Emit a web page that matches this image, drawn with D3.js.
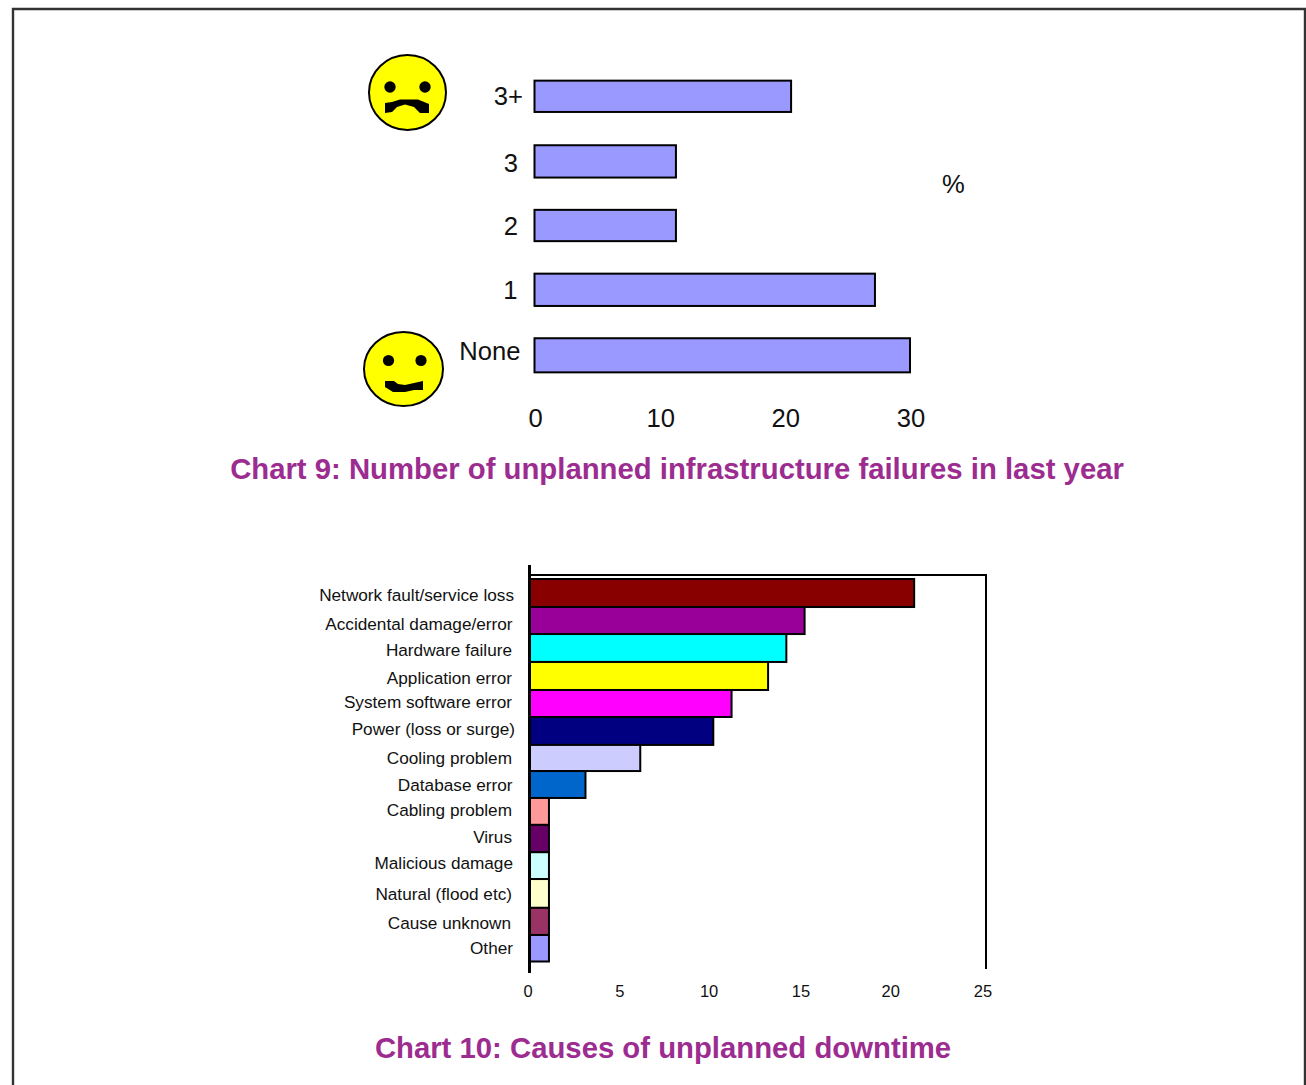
<!DOCTYPE html>
<html><head><meta charset="utf-8">
<script src="https://cdn.jsdelivr.net/npm/d3@7"></script>
<style>html,body{margin:0;padding:0;background:#fff;overflow:hidden}svg{display:block}text{font-family:"Liberation Sans",Arial,sans-serif;fill:#111}</style>
</head><body><div id="c"></div>
<script>
// Chart 9
const failureCats = ["3+","3","2","1","None"];
const failureVals = [20.5,11.3,11.3,27.2,30];
const failureTicks = [0,10,20,30];
// Chart 10
const causeCats = ["Network fault/service loss","Accidental damage/error","Hardware failure","Application error","System software error","Power (loss or surge)","Cooling problem","Database error","Cabling problem","Virus","Malicious damage","Natural (flood etc)","Cause unknown","Other"];
const causeVals = [21,15,14,13,11,10,6,3,1,1,1,1,1,1];
const causeColors = ["#880000","#990099","#00ffff","#ffff00","#ff00ff","#000080","#ccccff","#0066cc","#ff9999","#660066","#ccffff","#ffffcc","#993366","#9999ff"];
const causeTicks = [0,5,10,15,20,25];
// hand-placed nudges seen in the reference
const failureLabelDx = [4,-1,-1,-1.5,1.5], failureLabelDy = [-1,2,0,-1,-4];
const failureBarDy = [0,0,0,-0.8,-0.8], failureBarDh = [-1,0,-1,0,1.8];
const causeLabelDx = [2,0.5,0,0,0,3,0,0.5,0,0,1,0,-1,1], causeLabelDy = [2,4,3,3,0,0,1,1,-1,-2,-3,1,2,0];
const causeTickDx = [-1.5,-1,-3,-2.5,-4,-3];
const causeBarDy = [0,0.7,0.4,1,1.7,1.4,2,0.8,0.4,0,0,-0.5,1,0.8,0];

const svg = d3.select("#c").append("svg").attr("width",1306).attr("height",1085);
svg.append("path").attr("d","M13,1085V9H1305V1085").attr("fill","none").attr("stroke","#333").attr("stroke-width",2.4);

// Chart 9
const x9 = d3.scaleLinear().domain([0,30]).range([534.5,910]);
const y9 = d3.scaleBand().domain(failureCats).range([64.5,387.5]).paddingInner(0.5).paddingOuter(0.25);
const g9 = svg.append("g");
g9.selectAll("rect").data(failureCats).join("rect")
 .attr("x",x9(0)).attr("y",(d,i)=>y9(d)+failureBarDy[i]).attr("height",(d,i)=>y9.bandwidth()+failureBarDh[i])
 .attr("width",(d,i)=>x9(failureVals[i])-x9(0))
 .attr("fill","#9999ff").attr("stroke","#000").attr("stroke-width",2);
g9.selectAll(".cl").data(failureCats).join("text").attr("class","cl")
 .attr("x",(d,i)=>519+failureLabelDx[i]).attr("y",(d,i)=>y9(d)+y9.bandwidth()/2+failureLabelDy[i])
 .attr("text-anchor","end").attr("dominant-baseline","central").attr("font-size",25.6).text(d=>d);
g9.selectAll(".tl").data(failureTicks).join("text").attr("class","tl")
 .attr("x",d=>x9(d)+1).attr("y",418).attr("text-anchor","middle").attr("dominant-baseline","central").attr("font-size",25.6).text(d=>d);
svg.append("text").attr("x",953.5).attr("y",184).attr("text-anchor","middle").attr("dominant-baseline","central").attr("font-size",25.6).text("%");

function face(cx,cy,rx,ry,ex,ey,er,mouth){
  const f=svg.append("g");
  f.append("ellipse").attr("cx",cx).attr("cy",cy).attr("rx",rx).attr("ry",ry).attr("fill","#ffff00").attr("stroke","#000").attr("stroke-width",2);
  ex.forEach(x=>f.append("circle").attr("cx",x).attr("cy",ey).attr("r",er).attr("fill","#000"));
  f.append("path").attr("d",mouth).attr("fill","#000");
}
face(407.5,92.5,38.5,37.5,[390,425],87,5.7,"M385,113 L385,103 L392,102 L400,99.5 L418,99.5 L429,104 L429,113 L420,113 L414,107 L405,104.5 L397,107 L392,112 Z");
face(403.5,369,39.5,37,[388.5,421],360.5,5.6,"M385,381 L394,381 L398,384 L405,385 L414,383 L423,381 L423,390 L414,390 L405,392 L393,392 L385,387 Z");

svg.append("text").attr("x",677).attr("y",468).attr("text-anchor","middle").attr("dominant-baseline","central")
 .attr("font-size",29.3).attr("font-weight","bold").style("fill","#9c2c90").text("Chart 9: Number of unplanned infrastructure failures in last year");

// Chart 10
const x10 = d3.scaleLinear().domain([0,25]).range([529.5,986]);
const y10 = d3.scaleBand().domain(causeCats).range([579,961.5]);
const g10 = svg.append("g");
g10.selectAll("rect").data(causeCats).join("rect")
 .attr("x",x10(0)).attr("y",(d,i)=>y10(d)+causeBarDy[i]).attr("height",(d,i)=>y10.bandwidth()+causeBarDy[i+1]-causeBarDy[i])
 .attr("width",(d,i)=>x10(causeVals[i])-x10(0)+1.2)
 .attr("fill",(d,i)=>causeColors[i]).attr("stroke","#000").attr("stroke-width",2);
svg.append("path").attr("d",`M${x10(0)},575H${x10(25)}V969`).attr("fill","none").attr("stroke","#000").attr("stroke-width",2);
svg.append("path").attr("d",`M${x10(0)},565V973`).attr("fill","none").attr("stroke","#000").attr("stroke-width",3);
g10.selectAll(".cl").data(causeCats).join("text").attr("class","cl")
 .attr("x",(d,i)=>512+causeLabelDx[i]).attr("y",(d,i)=>y10(d)+y10.bandwidth()/2+causeLabelDy[i])
 .attr("text-anchor","end").attr("dominant-baseline","central").attr("font-size",17.2).text(d=>d);
g10.selectAll(".tl").data(causeTicks).join("text").attr("class","tl")
 .attr("x",(d,i)=>x10(d)+causeTickDx[i]).attr("y",991).attr("text-anchor","middle").attr("dominant-baseline","central").attr("font-size",16.5).text(d=>d);
svg.append("text").attr("x",663).attr("y",1047).attr("text-anchor","middle").attr("dominant-baseline","central")
 .attr("font-size",29.3).attr("font-weight","bold").style("fill","#9c2c90").text("Chart 10: Causes of unplanned downtime");
</script></body></html>
